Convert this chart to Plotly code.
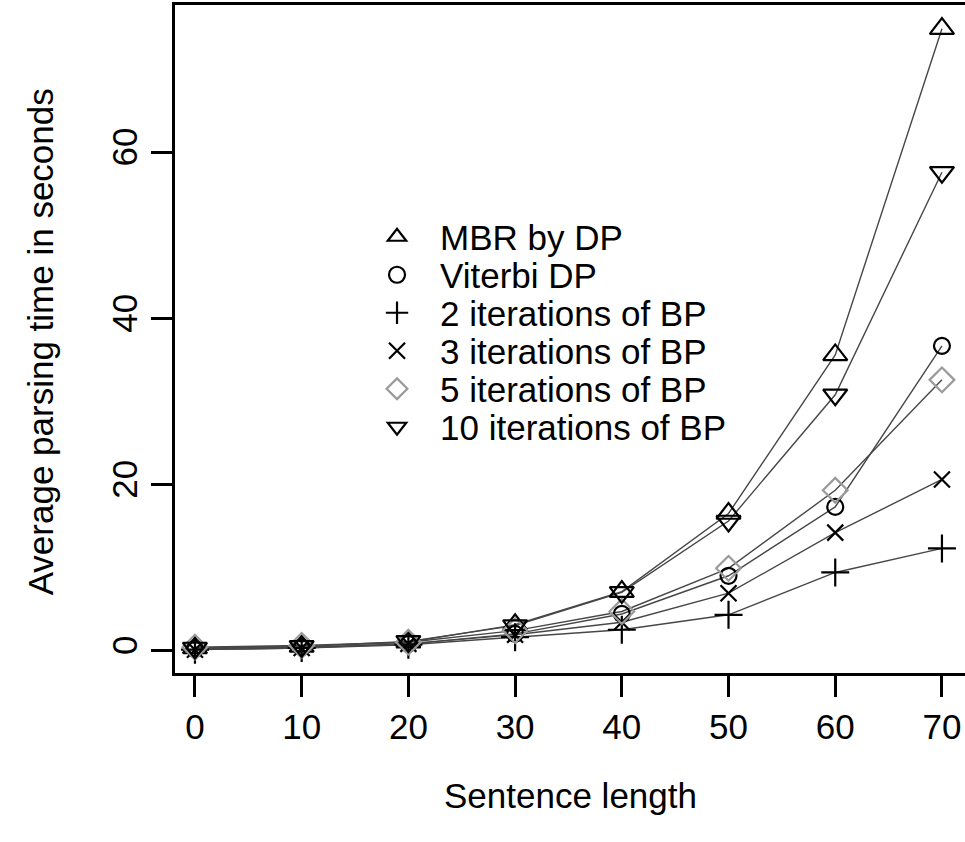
import plotly.graph_objects as go

lengths = [0, 10, 20, 30, 40, 50, 60, 70]
mbr_dp = [0.3, 0.5, 1.0, 3.1, 7.1, 16.5, 35.6, 74.9]
viterbi_dp = [0.2, 0.4, 0.8, 2.0, 4.4, 9.0, 17.3, 36.7]
bp2 = [0.1, 0.3, 0.7, 1.6, 2.5, 4.3, 9.4, 12.3]
bp3 = [0.1, 0.3, 0.8, 1.9, 3.4, 6.9, 14.2, 20.6]
bp5 = [0.4, 0.6, 1.0, 2.4, 4.7, 9.9, 19.3, 32.6]
bp10 = [0.3, 0.5, 1.1, 3.0, 7.0, 15.6, 30.8, 57.6]

series_names = ["MBR by DP", "Viterbi DP", "2 iterations of BP",
                "3 iterations of BP", "5 iterations of BP", "10 iterations of BP"]
series_values = [mbr_dp, viterbi_dp, bp2, bp3, bp5, bp10]
symbols = ["triangle-up-open", "circle-open", "cross-thin-open",
           "x-thin-open", "diamond-open", "triangle-down-open"]
sizes = [21, 16, 20, 16, 19, 21]
colors = ["black", "black", "black", "black", "#9a9a9a", "black"]

FONT = "Liberation Sans, Arial, sans-serif"
FS = 35

fig = go.Figure()
for vals in series_values:
    fig.add_trace(go.Scatter(x=lengths, y=vals, mode="lines",
                             line=dict(color="#474747", width=1.4),
                             showlegend=False, hoverinfo="skip"))

legend_ids = ["legend", "legend2", "legend3", "legend4", "legend5", "legend6"]
for name, vals, sym, sz, col, lid in zip(series_names, series_values, symbols,
                                         sizes, colors, legend_ids):
    fig.add_trace(go.Scatter(x=lengths, y=vals, mode="markers", name=name,
                             legend=lid,
                             marker=dict(symbol=sym, size=sz, color=col,
                                         line=dict(color=col, width=2.2))))

# one legend box per entry so the row spacing can follow the reference
plot_top, plot_h = 5, 668
row0, row_gap = 237, 38
legend_layout = {}
for i, lid in enumerate(legend_ids):
    ypix = row0 + i * row_gap
    legend_layout[lid] = dict(
        x=0.2266, y=1 - (ypix - plot_top) / plot_h, xanchor="left", yanchor="middle",
        bgcolor="rgba(0,0,0,0)", borderwidth=0,
        font=dict(family=FONT, size=FS, color="black"),
        itemwidth=76)

fig.update_layout(
    width=965, height=842,
    margin=dict(l=175, r=0, t=5, b=169),
    paper_bgcolor="white", plot_bgcolor="white",
    font=dict(family=FONT, color="black", size=FS),
    showlegend=True,
    xaxis=dict(range=[-1.87, 72.16], tickvals=[0, 10, 20, 30, 40, 50, 60, 70],
               showgrid=False, zeroline=False, showline=True, linecolor="black",
               linewidth=2.5, mirror=True, ticks="outside", ticklen=21, tickwidth=2.5,
               tickcolor="black", tickfont=dict(size=FS)),
    yaxis=dict(range=[-2.71, 77.75], tickvals=[0, 20, 40, 60],
               showgrid=False, zeroline=False, showline=True, linecolor="black",
               linewidth=2.5, ticks="outside", ticklen=21, tickwidth=2.5,
               tickcolor="black", tickangle=-90, tickfont=dict(size=FS)),
    annotations=[
        dict(text="Sentence length", xref="paper", yref="paper",
             x=0.5, y=-0.183, xanchor="center", yanchor="middle",
             showarrow=False, font=dict(size=FS)),
        dict(text="Average parsing time in seconds", xref="paper", yref="paper",
             x=-0.17, y=0.496, xanchor="center", yanchor="middle", textangle=-90,
             showarrow=False, font=dict(size=FS)),
    ],
    **legend_layout,
)

fig.write_html("out.html")
